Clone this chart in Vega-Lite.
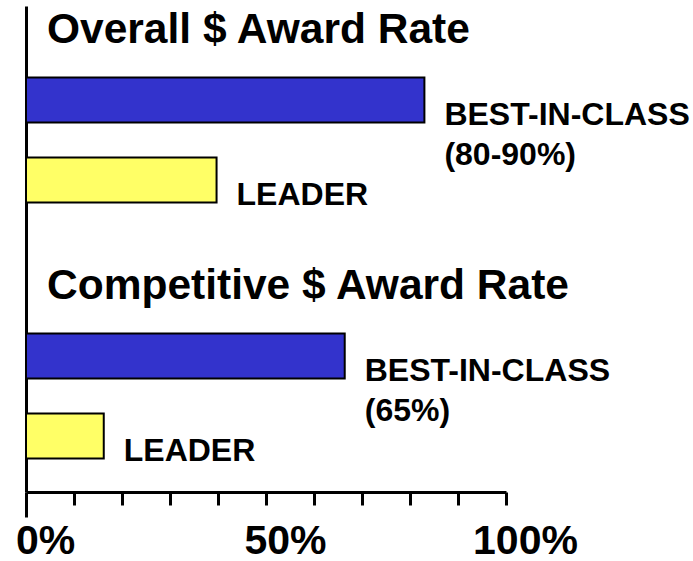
{
  "$schema": "https://vega.github.io/schema/vega-lite/v6.json",
  "width": 480,
  "height": 486,
  "autosize": "none",
  "padding": {"left": 26, "top": 6, "right": 187, "bottom": 69},
  "background": "white",
  "config": {
    "view": {"stroke": null},
    "font": "Liberation Sans"
  },
  "datasets": {
    "bars": [
      {"section": "Overall", "type": "BEST-IN-CLASS", "value": 83, "label": ["BEST-IN-CLASS", "(80-90%)"]},
      {"section": "Overall", "type": "LEADER", "value": 39.7, "label": "LEADER"},
      {"section": "Competitive", "type": "BEST-IN-CLASS", "value": 66.4, "label": ["BEST-IN-CLASS", "(65%)"]},
      {"section": "Competitive", "type": "LEADER", "value": 16.2, "label": "LEADER"}
    ],
    "titles": [
      {"section": "Overall", "title": "Overall $ Award Rate"},
      {"section": "Competitive", "title": "Competitive $ Award Rate"}
    ]
  },
  "encoding": {
    "y": {
      "field": "section",
      "type": "nominal",
      "scale": {"domain": ["Overall", "Competitive"], "paddingInner": 0.375, "paddingOuter": 0.137, "align": 0.771},
      "axis": {"labels": false, "ticks": false, "title": null, "domain": true, "domainWidth": 3, "domainColor": "black", "grid": false}
    }
  },
  "layer": [
    {
      "data": {"name": "bars"},
      "mark": {"type": "bar", "stroke": "black", "strokeWidth": 2},
      "encoding": {
        "x": {
          "field": "value",
          "type": "quantitative",
          "scale": {"domain": [0, 100], "nice": false},
          "axis": {
            "title": null,
            "grid": false,
            "values": [0, 10, 20, 30, 40, 50, 60, 70, 80, 90, 100],
            "labelExpr": "datum.value % 50 === 0 ? datum.value + '%' : ''",
            "domainWidth": 3,
            "domainColor": "black",
            "tickColor": "black",
            "tickWidth": 3,
            "tickSize": {"condition": {"test": "datum.value === 0", "value": 25}, "value": 13},
            "labelFont": "Liberation Sans",
            "labelFontWeight": "bold",
            "labelFontSize": 41,
            "labelColor": "black",
            "labelBaseline": "alphabetic",
            "labelPadding": {"condition": {"test": "datum.value === 0", "value": 36}, "value": 48},
            "labelOffset": 19,
            "labelFlush": false,
            "labelOverlap": false
          }
        },
        "yOffset": {
          "field": "type",
          "type": "nominal",
          "scale": {"domain": ["BEST-IN-CLASS", "LEADER"], "paddingInner": 0.4375, "paddingOuter": 0.21875}
        },
        "color": {
          "field": "type",
          "type": "nominal",
          "scale": {"domain": ["BEST-IN-CLASS", "LEADER"], "range": ["#3333CC", "#FFFF66"]},
          "legend": null
        }
      }
    },
    {
      "data": {"name": "bars"},
      "mark": {"type": "text", "align": "left", "baseline": "alphabetic", "dx": 20, "dy": 25, "fontSize": 32, "fontWeight": "bold", "font": "Liberation Sans", "lineHeight": 40, "color": "black"},
      "encoding": {
        "x": {"field": "value", "type": "quantitative"},
        "yOffset": {"field": "type", "type": "nominal"},
        "text": {"field": "label"}
      }
    },
    {
      "data": {"name": "titles"},
      "mark": {"type": "text", "align": "left", "baseline": "alphabetic", "dx": 21, "dy": -57, "fontSize": 42.5, "fontWeight": "bold", "font": "Liberation Sans", "color": "black"},
      "encoding": {
        "x": {"datum": 0, "type": "quantitative"},
        "yOffset": {"datum": "BEST-IN-CLASS", "type": "nominal"},
        "text": {"field": "title"}
      }
    }
  ]
}
